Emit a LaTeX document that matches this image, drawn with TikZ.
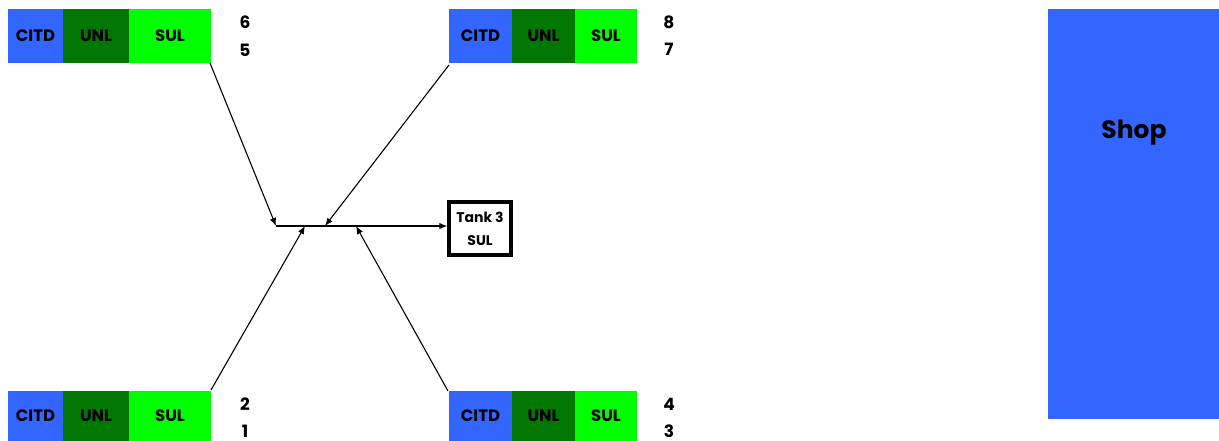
\documentclass[tikz,border=0pt]{standalone}
\usepackage{fontspec}
\setmainfont{Poppins}
\usetikzlibrary{arrows.meta}
\definecolor{cblue}{RGB}{51,102,255}
\definecolor{dgreen}{RGB}{0,119,0}
\definecolor{lgreen}{RGB}{0,255,0}
\begin{document}
\begin{tikzpicture}[x=1pt,y=-1pt,
  cell/.style={inner sep=0pt,outer sep=0pt,font=\fontsize{16.5}{18}\selectfont\bfseries,anchor=north west},
  num/.style={font=\fontsize{17}{19}\selectfont\bfseries,inner sep=0pt},
  conn/.style={-{Latex[length=8pt,width=6.5pt]},line width=1.1pt}]
\useasboundingbox (0,0) rectangle (1219,441);
% top-left group
\node[cell,fill=cblue,minimum width=55pt,minimum height=54pt] (tlA) at (8,9) {CITD};
\node[cell,fill=dgreen,minimum width=66pt,minimum height=54pt] (tlB) at (63,9) {UNL};
\node[cell,fill=lgreen,minimum width=82pt,minimum height=54pt] (tlC) at (129,9) {SUL};
\node[num] (n6) at (245,22) {6};
\node[num] (n5) at (245,50) {5};
% top-right group
\node[cell,fill=cblue,minimum width=63pt,minimum height=54pt] (trA) at (449,9) {CITD};
\node[cell,fill=dgreen,minimum width=63pt,minimum height=54pt] (trB) at (512,9) {UNL};
\node[cell,fill=lgreen,minimum width=62pt,minimum height=54pt] (trC) at (575,9) {SUL};
\node[num] (n8) at (669,22) {8};
\node[num] (n7) at (669,49) {7};
% bottom-left group
\node[cell,fill=cblue,minimum width=55pt,minimum height=50pt] (blA) at (8,391) {CITD};
\node[cell,fill=dgreen,minimum width=66pt,minimum height=50pt] (blB) at (63,391) {UNL};
\node[cell,fill=lgreen,minimum width=82pt,minimum height=50pt] (blC) at (129,391) {SUL};
\node[num] (n2) at (245,404) {2};
\node[num] (n1) at (245,431) {1};
% bottom-right group
\node[cell,fill=cblue,minimum width=63pt,minimum height=50pt] (brA) at (449,391) {CITD};
\node[cell,fill=dgreen,minimum width=63pt,minimum height=50pt] (brB) at (512,391) {UNL};
\node[cell,fill=lgreen,minimum width=62pt,minimum height=50pt] (brC) at (575,391) {SUL};
\node[num] (n4) at (669,404) {4};
\node[num] (n3) at (669,431) {3};
% shop
\node[fill=cblue,minimum width=171pt,minimum height=410pt,inner sep=0pt,anchor=north west] (shop) at (1048,9) {};
\node[font=\fontsize{25}{28}\selectfont\bfseries,inner sep=0pt] (shoplbl) at (1134,133) {Shop};
% tank
\node[draw,line width=3.5pt,minimum width=62pt,minimum height=53pt,inner sep=0pt,align=center,
  font=\fontsize{14}{23}\selectfont\bfseries] (tank) at (480,228.5) {Tank 3\\SUL};
% manifold
\coordinate (j0) at (276,226);
\coordinate (j1) at (325,226);
\coordinate (j2) at (305,226);
\coordinate (j3) at (356,226);
\coordinate (s1) at (210,63);
\coordinate (s2) at (449,65);
\coordinate (s3) at (211,390);
\coordinate (s4) at (448,391);
\draw[conn] (j0) -- (j0 -| tank.west);
\draw[conn] (s1) -- (j0);
\draw[conn] (s2) -- (j1);
\draw[conn] (s3) -- (j2);
\draw[conn] (s4) -- (j3);
\end{tikzpicture}
\end{document}
